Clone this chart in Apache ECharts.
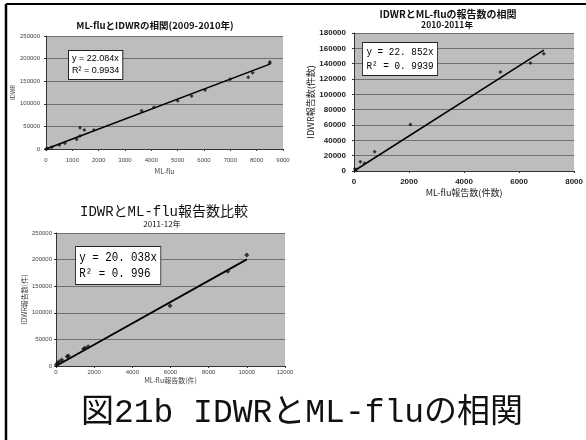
<!DOCTYPE html>
<html><head><meta charset="utf-8">
<script src="https://cdn.jsdelivr.net/npm/echarts@6/dist/echarts.min.js"></script>
<style>html,body{margin:0;padding:0;background:#fff}#c{width:586px;height:440px}</style>
</head><body><div id="c"></div>
<script>
// ---- Chart 1: 2009-2010 ----
const c1Title = 'ML-fluとIDWRの相関(2009-2010年)';
const c1XName = 'ML-flu';
const c1YName = 'IDWR';
const c1X = [0, 60, 215, 505, 720, 1165, 1290, 1290, 1455, 1820, 3630, 4100, 5000, 5530, 6040, 6990, 7680, 7850, 8500, 8500];
const c1Y = [0, 1000, 3700, 8800, 12600, 21400, 28800, 47000, 42000, 42000, 84800, 92200, 106900, 117300, 130500, 154200, 158600, 168800, 189600, 192500];
const c1TrendX = [0, 8500];
const c1TrendY = [0, 187700];
const c1Legend = ['y = 22.084x', 'R² = 0.9934'];
const c1XRange = [0, 9000, 1000];
const c1YRange = [0, 250000, 50000];

// ---- Chart 2: 2010-2011 ----
const c2Title = 'IDWRとML-fluの報告数の相関';
const c2Sub = '2010-2011年';
const c2XName = 'ML-flu報告数(件数)';
const c2YName = 'IDWR報告数(件数)';
const c2X = [30, 80, 230, 380, 750, 2050, 5320, 6410, 6900];
const c2Y = [2500, 1500, 12000, 10000, 25000, 60600, 129000, 141000, 153000];
const c2TrendX = [0, 6900];
const c2TrendY = [0, 157700];
const c2Legend = ['y = 22. 852x', 'R² = 0. 9939'];
const c2XRange = [0, 8000, 2000];
const c2YRange = [0, 180000, 20000];

// ---- Chart 3: 2011-12 ----
const c3Title = 'IDWRとML-flu報告数比較';
const c3Sub = '2011-12年';
const c3XName = 'ML-flu報告数(件)';
const c3YName = 'IDWR報告数(件)';
const c3X = [20, 80, 150, 300, 590, 645, 1450, 1520, 1690, 5975, 9000, 9995];
const c3Y = [2500, 5000, 8000, 11300, 17800, 18800, 32000, 33300, 36300, 113300, 178000, 208600];
const c3TrendX = [0, 10000];
const c3TrendY = [0, 200400];
const c3Legend = ['y = 20. 038x', 'R² = 0. 996'];
const c3XRange = [0, 12000, 2000];
const c3YRange = [0, 250000, 50000];

const caption = '図21b IDWRとML-fluの相関';

const JP = '"Noto Sans CJK JP"';
const MONO = '"Liberation Mono", "Noto Sans CJK JP"';
const plotBg = '#bdbdbd';
const gridCol = '#6f6f6f';
const plain = v => String(v);

function pairs(xs, ys) { return xs.map((x, i) => [x, ys[i]]); }

function xAxis(idx, r, name, gap, fs, fw, col, nfs, margin) {
  return {
    gridIndex: idx, type: 'value', min: r[0], max: r[1], interval: r[2],
    name: name, nameLocation: 'middle', nameGap: gap,
    nameTextStyle: { fontFamily: JP, fontSize: nfs, color: col },
    axisLine: { show: true, lineStyle: { color: '#333', width: 1 } },
    axisTick: { show: true, length: 2, lineStyle: { color: '#333' } },
    axisLabel: { fontSize: fs, fontWeight: fw, color: col, margin: margin, fontFamily: 'Liberation Sans', formatter: plain },
    splitLine: { show: false }
  };
}
function yAxis(idx, r, name, gap, fs, fw, col, nfs, margin) {
  return {
    gridIndex: idx, type: 'value', min: r[0], max: r[1], interval: r[2],
    name: name, nameLocation: 'middle', nameGap: gap, nameRotate: 90,
    nameTextStyle: { fontFamily: JP, fontSize: nfs, color: col },
    axisLine: { show: true, lineStyle: { color: '#333', width: 1 } },
    axisTick: { show: true, length: 2, lineStyle: { color: '#333' } },
    axisLabel: { fontSize: fs, fontWeight: fw, color: col, margin: margin, fontFamily: 'Liberation Sans', formatter: plain },
    splitLine: { show: true, lineStyle: { color: gridCol, width: 1 } }
  };
}
function scatter(idx, xs, ys, size) {
  return { type: 'scatter', xAxisIndex: idx, yAxisIndex: idx, data: pairs(xs, ys),
    symbol: 'diamond', symbolSize: size, itemStyle: { color: '#111' }, z: 3 };
}
function trend(idx, xs, ys, w) {
  return { type: 'line', xAxisIndex: idx, yAxisIndex: idx, data: pairs(xs, ys),
    symbol: 'none', lineStyle: { color: '#000', width: w }, z: 2 };
}
function legendBox(x, y, lines, font, lh, pad, sx) {
  return { type: 'text', x: x, y: y, scaleX: sx, z: 10,
    style: { text: lines.join('\n'), font: font, fill: '#000', lineHeight: lh,
      backgroundColor: '#fff', borderColor: '#222', borderWidth: 1, padding: pad } };
}
function label(x, y, text, font, align) {
  return { type: 'text', x: x, y: y, z: 10,
    style: { text: text, font: font, fill: '#111', align: align || 'center', verticalAlign: 'middle',
      textAlign: align || 'center', textVerticalAlign: 'middle' } };
}

const chart = echarts.init(document.getElementById('c'), null, { renderer: 'canvas' });
chart.setOption({
  animation: false,
  backgroundColor: '#fff',
  grid: [
    { left: 46, top: 36, width: 237, height: 113, show: true, backgroundColor: plotBg, borderWidth: 0 },
    { left: 354, top: 33, width: 228, height: 138, show: true, backgroundColor: plotBg, borderWidth: 0 },
    { left: 56, top: 233, width: 229, height: 133, show: true, backgroundColor: plotBg, borderWidth: 0 }
  ],
  xAxis: [
    xAxis(0, c1XRange, c1XName, 19, 6, 'normal', '#444', 7, 8),
    xAxis(1, c2XRange, c2XName, 17, 8, 'bold', '#222', 9, 7),
    xAxis(2, c3XRange, c3XName, 11, 6, 'normal', '#444', 7, 3)
  ],
  yAxis: [
    yAxis(0, c1YRange, c1YName, 30, 6, 'normal', '#444', 6, 6),
    yAxis(1, c2YRange, c2YName, 37, 8, 'bold', '#222', 9, 8),
    yAxis(2, c3YRange, c3YName, 27, 6, 'normal', '#444', 7, 4)
  ],
  series: [
    trend(0, c1TrendX, c1TrendY, 1.5), scatter(0, c1X, c1Y, 4),
    trend(1, c2TrendX, c2TrendY, 1.5), scatter(1, c2X, c2Y, 4),
    trend(2, c3TrendX, c3TrendY, 1.8), scatter(2, c3X, c3Y, 5)
  ],
  graphic: [
    { type: 'line', shape: { x1: 6, y1: 4, x2: 6, y2: 440 }, style: { stroke: '#000', lineWidth: 2.5 } },
    { type: 'line', shape: { x1: 6, y1: 4, x2: 586, y2: 4 }, style: { stroke: '#000', lineWidth: 2 } },
    label(155, 25, c1Title, 'bold 9.5px ' + JP),
    label(448, 14, c2Title, 'bold 10px ' + JP),
    label(447, 25, c2Sub, 'bold 8.5px ' + JP),
    label(164, 212, c3Title, '14px ' + MONO),
    label(162, 224, c3Sub, '8px ' + JP),
    legendBox(69, 51, c1Legend, '9px "Liberation Sans"', 12, [2, 3], 1),
    legendBox(363, 43, c2Legend, '11px "Liberation Mono"', 14, [2, 4], 0.85),
    legendBox(76, 247, c3Legend, '13px "Liberation Mono"', 16.5, [2, 4], 0.83),
    label(302, 413, caption, '33px ' + MONO)
  ]
});
</script></body></html>
